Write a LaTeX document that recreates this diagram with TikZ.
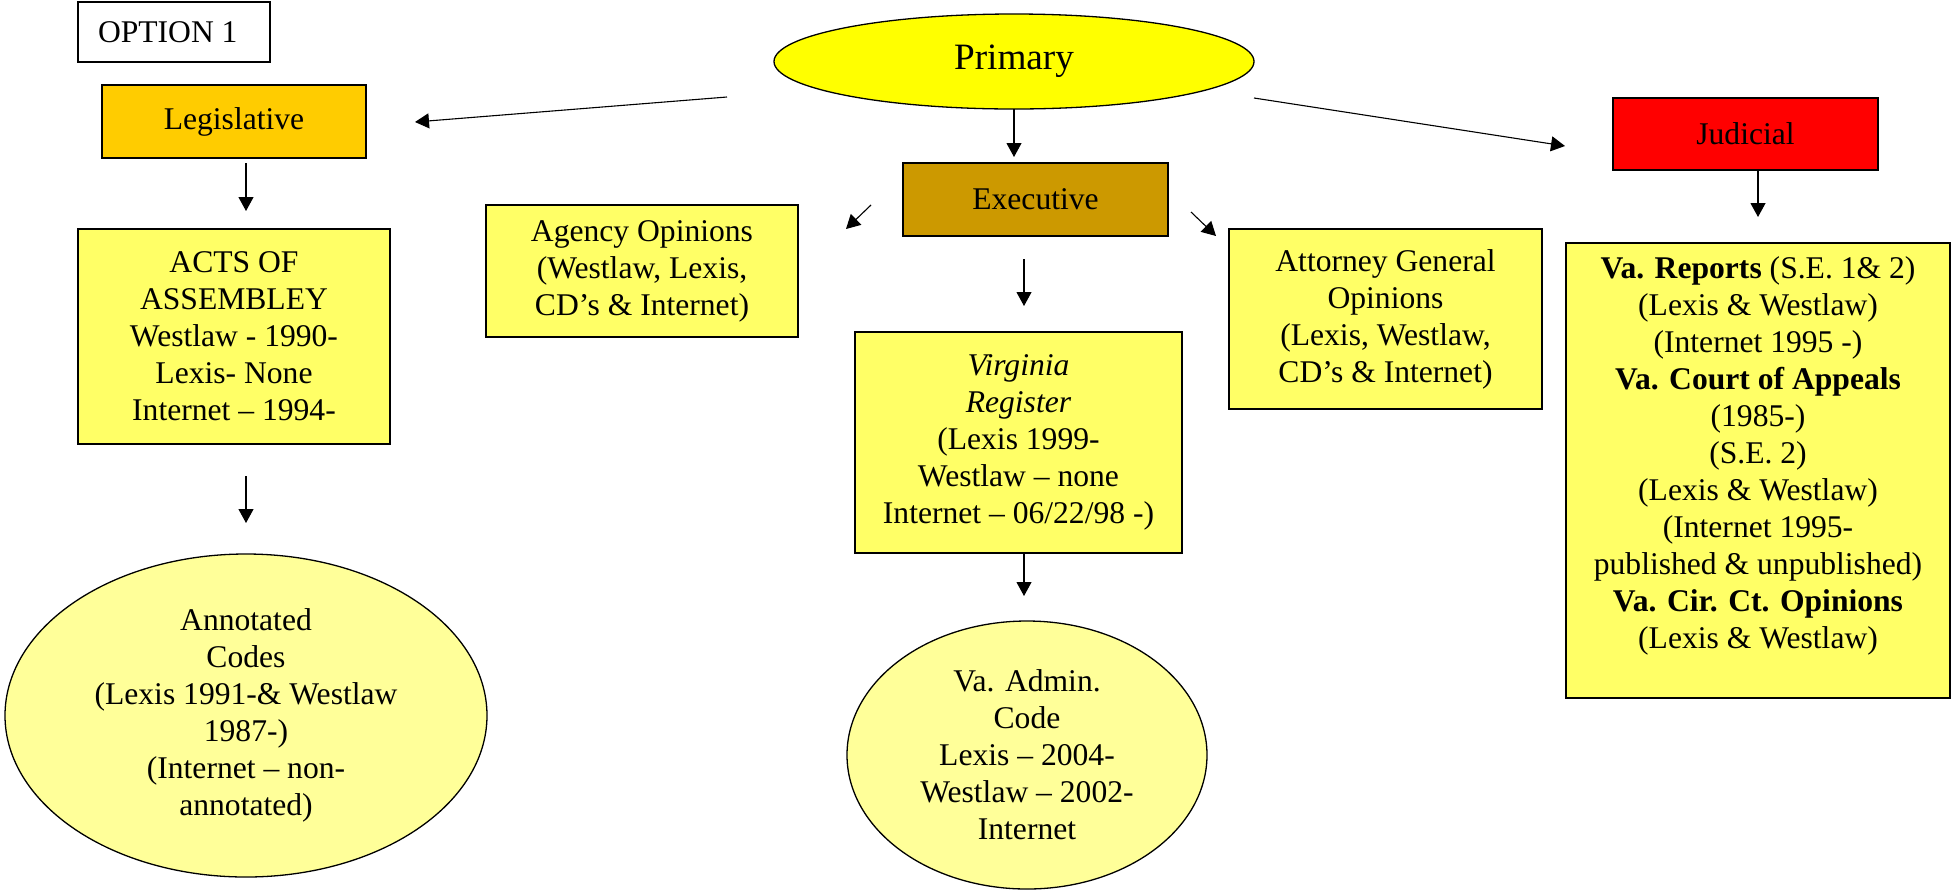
\documentclass[tikz,border=0pt]{standalone}
\usepackage{fontspec}
\setmainfont{Liberation Serif}
\usetikzlibrary{shapes.geometric,arrows.meta}
\definecolor{primc}{HTML}{FFFF00}
\definecolor{legc}{HTML}{FFCC00}
\definecolor{execc}{HTML}{CC9900}
\definecolor{judc}{HTML}{FF0000}
\definecolor{ybox}{HTML}{FFFF66}
\definecolor{yoval}{HTML}{FFFF99}
\begin{document}
\begin{tikzpicture}[x=0.5pt,y=-0.5pt,
  every node/.style={font=\fontsize{15.8}{18.5}\selectfont, inner sep=0pt, outer sep=0pt},
  box/.style={draw, line width=0.65pt, rectangle, align=center},
  oval/.style={draw, line width=0.65pt, ellipse, align=center},
  arr/.style={line width=0.55pt, -{Triangle[length=7pt,width=7.5pt]}},
]
\useasboundingbox (0,0) rectangle (1954,890);

% nodes
\node[box, fill=white, minimum width=96pt, minimum height=30pt] (opt) at (174,32) {};
\node[anchor=west] (optt) at (98,32) {OPTION 1};
\node[oval, fill=primc, minimum width=240pt, minimum height=47.5pt, font=\fontsize{18.6}{22}\selectfont] (prim) at (1014,61.5) {Primary};
\node[box, fill=legc, minimum width=132pt, minimum height=36.5pt] (leg) at (234,121.5) {Legislative};
\node[box, fill=execc, minimum width=132.5pt, minimum height=36.5pt] (exe) at (1035.5,199.5) {Executive};
\node[box, fill=judc, minimum width=132.5pt, minimum height=36pt] (jud) at (1745.5,134) {Judicial};
\node[box, fill=ybox, minimum width=156pt, minimum height=107.5pt] (acts) at (234,336.5)
  {ACTS OF\\ASSEMBLEY\\Westlaw - 1990-\\Lexis- None\\Internet -- 1994-};
\node[box, fill=ybox, minimum width=156pt, minimum height=66pt] (agency) at (642,271)
  {Agency Opinions\\(Westlaw, Lexis,\\CD's \& Internet)};
\node[box, fill=ybox, minimum width=156.5pt, minimum height=90pt] (atty) at (1385.5,319)
  {Attorney General\\Opinions\\(Lexis, Westlaw,\\CD's \& Internet)};
\node[box, fill=ybox, minimum width=163.5pt, minimum height=110.5pt] (reg) at (1018.5,442.5)
  {\textit{Virginia}\\\textit{Register}\\(Lexis 1999-\\Westlaw -- none\\Internet -- 06/22/98 -)};
\node[box, fill=ybox, minimum width=192pt, minimum height=227.5pt] (vr) at (1758,470.5) {};
\node[align=center] (vrt) at (1758,456)
  {\textbf{Va. Reports} (S.E. 1\& 2)\\(Lexis \& Westlaw)\\(Internet 1995 -)\\\textbf{Va. Court of Appeals}\\(1985-)\\(S.E. 2)\\(Lexis \& Westlaw)\\(Internet 1995-\\published \& unpublished)\\\textbf{Va. Cir. Ct. Opinions}\\(Lexis \& Westlaw)};
\node[oval, fill=yoval, minimum width=241pt, minimum height=161.5pt] (annot) at (246,715.5)
  {Annotated\\Codes\\(Lexis 1991-\& Westlaw\\1987-)\\(Internet -- non-\\annotated)};
\node[oval, fill=yoval, minimum width=180pt, minimum height=134pt] (admin) at (1027,755)
  {Va. Admin.\\Code\\Lexis -- 2004-\\Westlaw -- 2002-\\Internet};

% free arrow ends
\coordinate (pl) at (727,97);
\coordinate (lt) at (415,122);
\coordinate (pj) at (1254,98);
\coordinate (jt) at (1565,146);
\coordinate (ea) at (871,205);
\coordinate (at) at (846,229);
\coordinate (eg) at (1191,212);
\coordinate (gt) at (1216,236);

% connectors
\draw[arr] (pl) -- (lt);
\draw[arr] (pj) -- (jt);
\draw[arr] (ea) -- (at);
\draw[arr] (eg) -- (gt);
\draw[arr, shorten >=3pt] (prim.south) -- (prim.south |- exe.north);
\draw[arr, shorten <=2.5pt, shorten >=9pt] ([xshift=6pt]leg.south) -- ([xshift=6pt]acts.north);
\draw[arr, shorten <=16pt, shorten >=15.5pt] ([xshift=6pt]acts.south) -- ([xshift=6pt]acts.south |- annot.north);
\draw[arr, shorten <=11.5pt, shorten >=13pt] ([xshift=-5.75pt]exe.south) -- ([xshift=-5.75pt]exe.south |- reg.north);
\draw[arr, shorten >=12.5pt] ([xshift=2.75pt]reg.south) -- ([xshift=2.75pt]reg.south |- admin.north);
\draw[arr, shorten >=13pt] (vr.north |- jud.south) -- (vr.north);
\end{tikzpicture}
\end{document}
